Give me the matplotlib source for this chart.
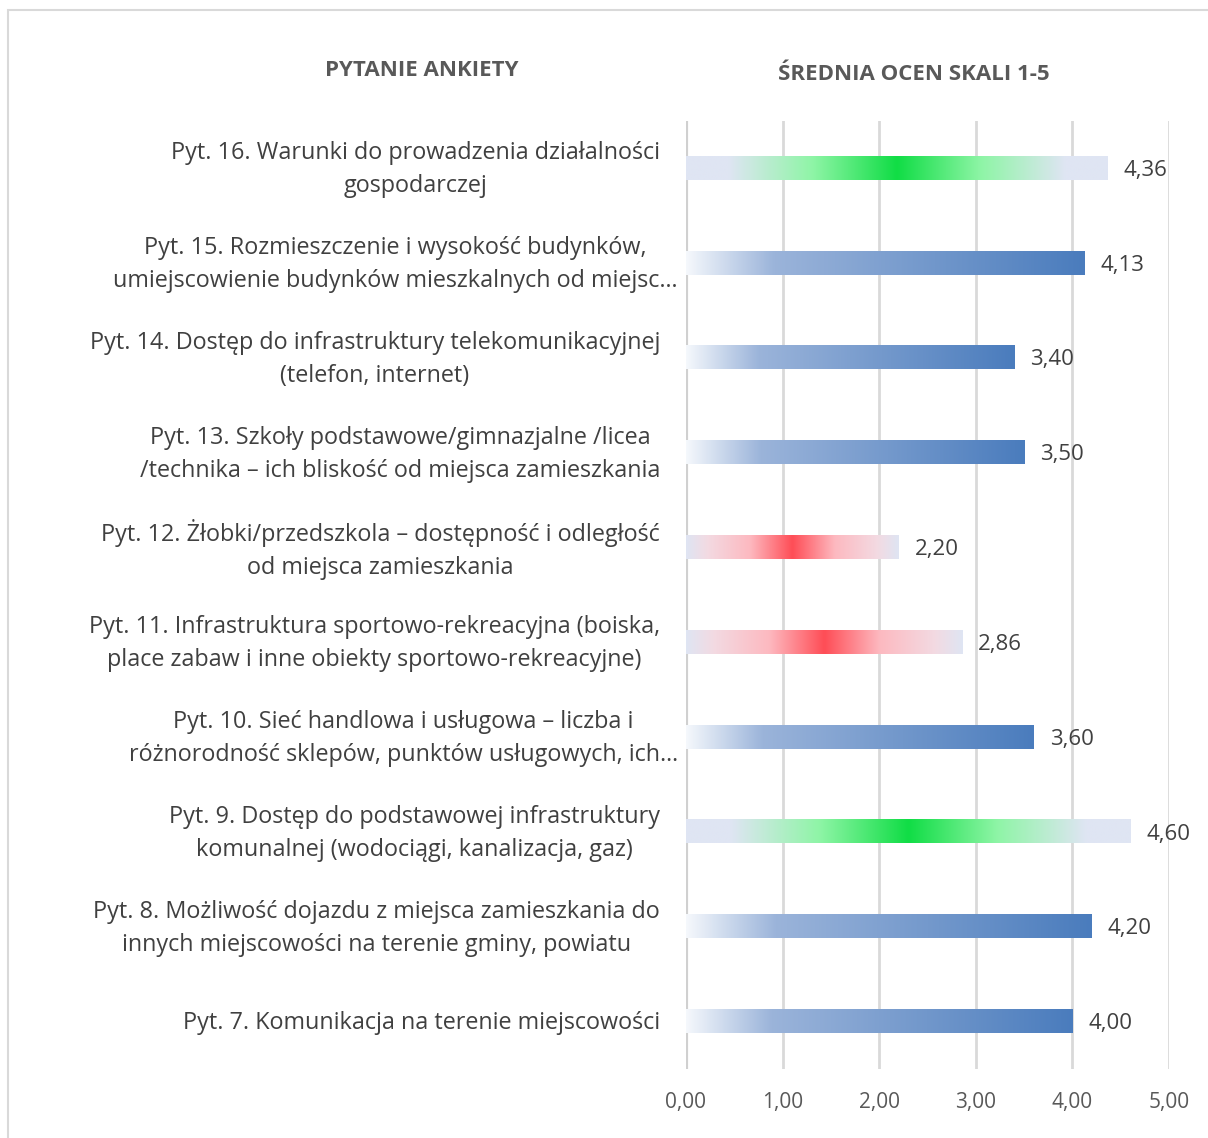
import numpy as np
import matplotlib

matplotlib.use("Agg")
import matplotlib.pyplot as plt
from matplotlib.colors import LinearSegmentedColormap
from matplotlib.patches import Rectangle

plt.rcParams["font.family"] = ["Open Sans", "DejaVu Sans"]

# ── Data (top to bottom as in the reference) ─────────────────────
questions = [
    "Pyt. 16. Warunki do prowadzenia działalności\ngospodarczej",
    "Pyt. 15. Rozmieszczenie i wysokość budynków,\numiejscowienie budynków mieszkalnych od miejsc…",
    "Pyt. 14. Dostęp do infrastruktury telekomunikacyjnej\n(telefon, internet)",
    "Pyt. 13. Szkoły podstawowe/gimnazjalne /licea\n/technika – ich bliskość od miejsca zamieszkania",
    "Pyt. 12. Żłobki/przedszkola – dostępność i odległość\nod miejsca zamieszkania",
    "Pyt. 11. Infrastruktura sportowo-rekreacyjna (boiska,\nplace zabaw i inne obiekty sportowo-rekreacyjne)",
    "Pyt. 10. Sieć handlowa i usługowa – liczba i\nróżnorodność sklepów, punktów usługowych, ich…",
    "Pyt. 9. Dostęp do podstawowej infrastruktury\nkomunalnej (wodociągi, kanalizacja, gaz)",
    "Pyt. 8. Możliwość dojazdu z miejsca zamieszkania do\ninnych miejscowości na terenie gminy, powiatu",
    "Pyt. 7. Komunikacja na terenie miejscowości",
]
scores = [4.36, 4.13, 3.40, 3.50, 2.20, 2.86, 3.60, 4.60, 4.20, 4.00]
xticks = [0, 1, 2, 3, 4, 5]
xtick_labels = ["0,00", "1,00", "2,00", "3,00", "4,00", "5,00"]
header_left = "PYTANIE ANKIETY"
header_right = "ŚREDNIA OCEN SKALI 1-5"

# ── Gradient fills (Excel-like) ──────────────────────────────────
LAV = "#dfe5f3"
cm_blue = LinearSegmentedColormap.from_list(
    "blue", [(0.0, "#f5f8fc"), (0.22, "#9bb4da"), (1.0, "#4a7cbd")])
cm_green = LinearSegmentedColormap.from_list(
    "green", [(0.0, LAV), (0.1, LAV), (0.3, "#8ef5a6"), (0.5, "#10dd45"),
              (0.7, "#8ef5a6"), (0.9, LAV), (1.0, LAV)])
cm_red = LinearSegmentedColormap.from_list(
    "red", [(0.0, LAV), (0.1, "#f3dae2"), (0.3, "#fdb9c0"), (0.5, "#ff4d56"),
            (0.7, "#fdb9c0"), (0.9, "#f3dae2"), (1.0, LAV)])


def pick_cmap(v):
    if v >= 4.3:
        return cm_green
    if v < 3.0:
        return cm_red
    return cm_blue


W, H = 1208, 1138
fig = plt.figure(figsize=(W / 100, H / 100), dpi=100)
fig.patch.set_facecolor("white")

# outer chart border
fig.add_artist(Rectangle((8 / W, -0.1), 1.2, 1 - 10 / H + 0.1,
                         transform=fig.transFigure, fill=False,
                         edgecolor="#d9d9d9", lw=1.5))

ax = fig.add_axes([686 / W, 1 - 1068.5 / H, (1169 - 686) / W, (1068.5 - 120.5) / H])
n = len(scores)
ypos = np.arange(n)
bar_h = 0.25
grad = np.linspace(0, 1, 256).reshape(1, -1)

for y, v in zip(ypos, scores):
    ax.imshow(grad, cmap=pick_cmap(v), aspect="auto", interpolation="bilinear",
              extent=(0, v, y + bar_h / 2, y - bar_h / 2), zorder=2)
    ax.text(v + 0.165, y, f"{v:.2f}".replace(".", ","), va="center_baseline",
            ha="left", fontsize=16, color="#404040", zorder=3)

ax.set_xlim(0, 5)
ax.set_ylim(n - 0.5, -0.5)
ax.set_xticks(xticks)
ax.set_xticklabels(xtick_labels, fontsize=15, color="#595959")
ax.tick_params(axis="x", length=0, pad=17)
ax.set_yticks([])
for s in ax.spines.values():
    s.set_visible(False)
ax.grid(axis="x", color="#d9d9d9", lw=2, zorder=0)
ax.axvline(0, color="#d0d0d0", lw=3, zorder=1)
ax.set_axisbelow(True)

# category labels, centred lines, right edge near the axis
for y, q in zip(ypos, questions):
    xr = 678 if q.endswith("…") else 660
    ax.annotate(q, xy=(xr / W, y), xycoords=("figure fraction", "data"),
                xytext=(0, -2), textcoords="offset pixels",
                ha="right", va="center", multialignment="center",
                fontsize=16.8, color="#404040", linespacing=1.5)

fig.text(422 / W, 1 - 71 / H, header_left, ha="center", va="center",
         fontsize=16, fontweight="bold", color="#595959")
fig.text(914 / W, 1 - 74 / H, header_right, ha="center", va="center",
         fontsize=16, fontweight="bold", color="#595959")

fig.savefig("out.png", dpi=100)
